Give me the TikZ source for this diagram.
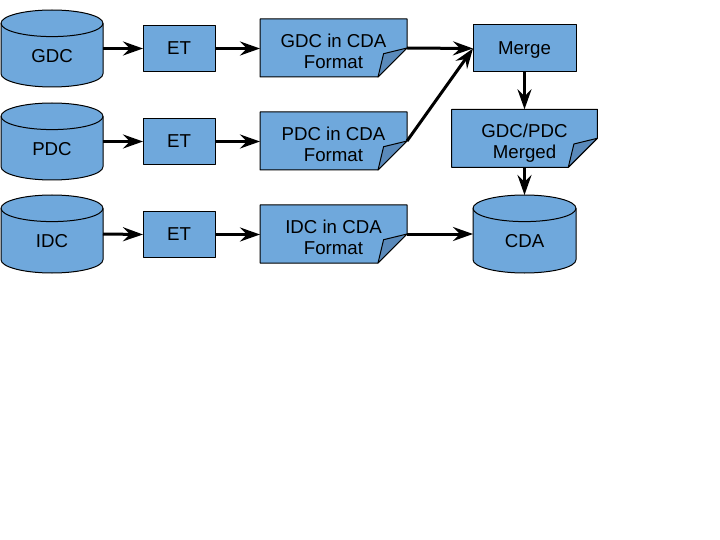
\documentclass[tikz,border=0pt]{standalone}
\usepackage{fontspec}
\setmainfont{Liberation Sans}
\usetikzlibrary{arrows.meta}
\definecolor{fillblue}{HTML}{6FA8DC}
\definecolor{foldblue}{HTML}{5A8ABB}
\tikzset{
  shapeline/.style={draw=black, line width=1pt, fill=fillblue, line join=round},
  foldpart/.style={draw=black, line width=1pt, fill=foldblue, line join=round},
  hold/.style={draw=none, inner sep=0pt, outer sep=0pt, rectangle},
  lbl/.style={font=\fontsize{18.67}{21.5}\selectfont, align=center, inner sep=0pt, text depth=0pt},
  etbox/.style={shapeline, lbl, rectangle, outer sep=0pt},
  arr/.style={line width=3pt, -{Stealth[length=20pt,width=14pt,inset=7pt]}},
}
\newcommand\mycyl[6]{%
  \node[hold, minimum width=#4pt, minimum height=#5pt] (#1) at (#2,#3) {};
  \path[shapeline] (#2-#4/2,#3-#5/2+13.3) -- (#2-#4/2,#3+#5/2-13.3)
    arc[start angle=180,end angle=0,x radius=#4/2,y radius=13.3]
    -- (#2+#4/2,#3-#5/2+13.3)
    arc[start angle=0,end angle=-180,x radius=#4/2,y radius=13.3] -- cycle;
  \draw[line width=1pt] (#2-#4/2,#3-#5/2+13.3)
    arc[start angle=180,end angle=0,x radius=#4/2,y radius=13.3];
  \node[lbl] (#1-t) at (#2,#3+7) {#6};
}
\newcommand\mydoc[6]{%
  \node[hold, minimum width=#4pt, minimum height=#5pt] (#1) at (#2,#3) {};
  \path[shapeline] (#2-#4/2,#3-#5/2) -- (#2+#4/2,#3-#5/2) -- (#2+#4/2,#3+#5/2-29)
    -- (#2+#4/2-29,#3+#5/2) -- (#2-#4/2,#3+#5/2) -- cycle;
  \path[foldpart] (#2+#4/2,#3+#5/2-29) -- (#2+#4/2-23.4,#3+#5/2-23.3)
    -- (#2+#4/2-29,#3+#5/2) -- cycle;
  \node[lbl] (#1-t) at (#2,#3+3) {#6};
}
\begin{document}
\begin{tikzpicture}[x=1pt,y=-1pt]
\fill[white] (0,0) rectangle (720,540);
\useasboundingbox (0,0) rectangle (720,540);

\mycyl{gdc}{52}{48.5}{102}{77}{GDC}
\mycyl{pdc}{52}{141.5}{102}{77}{PDC}
\mycyl{idc}{52}{234}{102}{78}{IDC}
\mycyl{cda}{524.5}{234}{103}{78}{CDA}

\node[etbox, minimum width=72pt, minimum height=45.5pt] (et1) at (179,48.5) {ET};
\node[etbox, minimum width=72pt, minimum height=45.5pt] (et2) at (179,141.5) {ET};
\node[etbox, minimum width=72pt, minimum height=45.5pt] (et3) at (179,234.5) {ET};

\mydoc{gdoc}{333.5}{48}{147}{58}{GDC in CDA\\Format}
\mydoc{pdoc}{333.5}{141}{147}{58}{PDC in CDA\\Format}
\mydoc{idoc}{333.5}{234}{147}{58}{IDC in CDA\\Format}

\node[etbox, minimum width=103pt, minimum height=47pt] (merge) at (524.5,48.5) {Merge};
\mydoc{mdoc}{524.5}{138.3}{145.6}{58}{GDC/PDC\\Merged}

\draw[arr] (gdc.east) -- (et1.west);
\draw[arr] (pdc.east) -- (et2.west);
\draw[arr] (idc.east) -- (et3.west);
\draw[arr] (et1.east) -- (gdoc.west |- et1.east);
\draw[arr] (et2.east) -- (pdoc.west |- et2.east);
\draw[arr] (et3.east) -- (idoc.west |- et3.east);
\draw[arr] (gdoc.east) -- (merge.west);
\draw[arr] (pdoc.east) -- (merge.west);
\draw[arr] (merge.south) -- (mdoc.north);
\draw[arr] (mdoc.south) -- (cda.north);
\draw[arr] (idoc.east) -- (cda.west);
\end{tikzpicture}
\end{document}
